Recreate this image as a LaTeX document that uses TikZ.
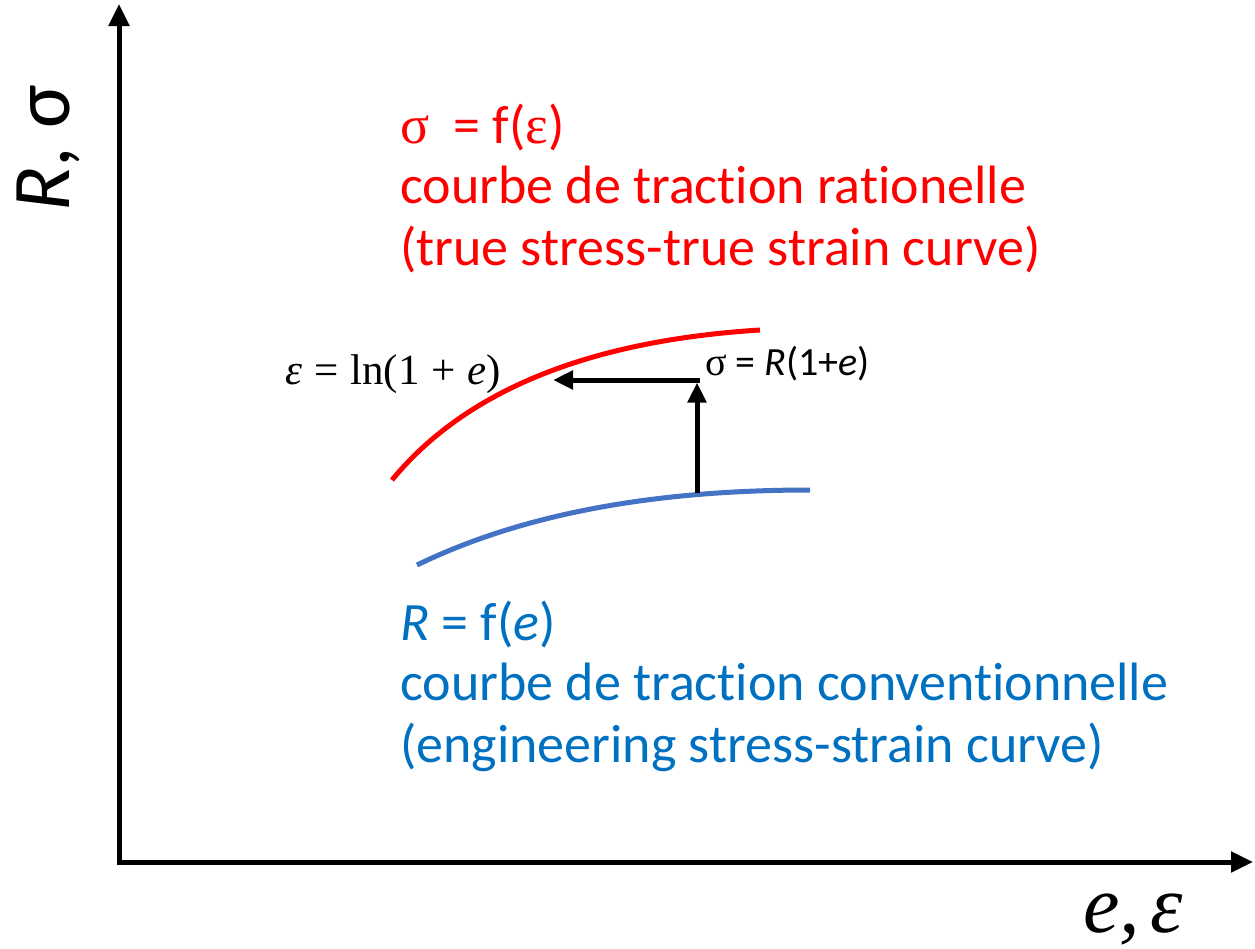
\documentclass[tikz,border=0pt]{standalone}
\usepackage{fontspec}
\setmainfont{Carlito}[Ligatures={NoCommon,NoContextual,NoRare},Contextuals=NoAlternate]
\newfontfamily\serifgr{Liberation Serif}
\newcommand\tNoLig{t\kern0pt i}
\usetikzlibrary{arrows.meta}
\definecolor{trueRed}{RGB}{255,0,0}
\definecolor{engBlue}{RGB}{0,112,192}
\definecolor{curveBlue}{RGB}{68,114,196}
\tikzset{
  axis/.style={line width=5pt,-{Triangle[length=22pt,width=20pt]}},
  conv/.style={line width=5pt,-{Triangle[length=20pt,width=18pt]}},
  curve/.style={line width=5pt},
  bigtxt/.style={anchor=base west,inner sep=0pt,font=\fontsize{54}{64}\selectfont},
  smalltxt/.style={anchor=base west,inner sep=0pt,font=\fontsize{40}{44}\selectfont}
}
\begin{document}
\begin{tikzpicture}[x=1pt,y=-1pt]
\useasboundingbox (0,0) rectangle (1255,948);
% axes
\coordinate (O) at (119,862);
\coordinate (Ytop) at (119,4);
\coordinate (Xend) at (1253,862);
\draw[axis] (O) -- (Ytop);
\draw[axis] ([xshift=-2.5pt]O) -- (Xend);
\node[rotate=90,inner sep=0pt,font=\fontsize{82}{88}\selectfont] (ylab) at (48,148) {\textit{R}, σ};
\node[anchor=base west,inner sep=0pt,font=\fontsize{82}{88}\selectfont\serifgr\itshape] (xlab) at (1083,932) {e,\hspace{10pt}ε};
% curves
\draw[curve,trueRed] (392,480) .. controls (470,385) and (600,340) .. (760,330);
\draw[curve,curveBlue] (417,565) .. controls (520,515) and (650,490) .. (810,490);
% conversion arrows
\coordinate (Pb) at (697,493);
\coordinate (Pc) at (697,380);
\coordinate (Pr) at (553,380);
\draw[conv] (Pb) -- ([yshift=-2.5pt]Pc);
\draw[conv] ([xshift=2.5pt]Pc) -- (Pr);
\node[anchor=base west,inner sep=0pt,font=\fontsize{43}{46}\selectfont\serifgr] (lneq) at (285,384) {\textit{ε}\hspace{12pt}=\hspace{12pt}ln(1\hspace{12pt}+\hspace{12pt}\textit{e})};
\node[smalltxt] (sigeq) at (705,375) {{\serifgr σ} = \textit{R}(1+\textit{e})};
% red texts
\node[bigtxt,text=trueRed] (r1) at (400,143) {{\serifgr σ}\ \ = f({\serifgr ε})};
\node[bigtxt,text=trueRed] (r2) at (400,203) {courbe de trac\tNoLig on ra\tNoLig onelle};
\node[bigtxt,text=trueRed] (r3) at (400,265) {(true stress-true strain curve)};
% blue texts
\node[bigtxt,text=engBlue] (b1) at (400,640) {\textit{R} = f(\textit{e})};
\node[bigtxt,text=engBlue] (b2) at (400,700) {courbe de trac\tNoLig on conven\tNoLig onnelle};
\node[bigtxt,text=engBlue] (b3) at (400,762) {(engineering stress-strain curve)};
\end{tikzpicture}
\end{document}
